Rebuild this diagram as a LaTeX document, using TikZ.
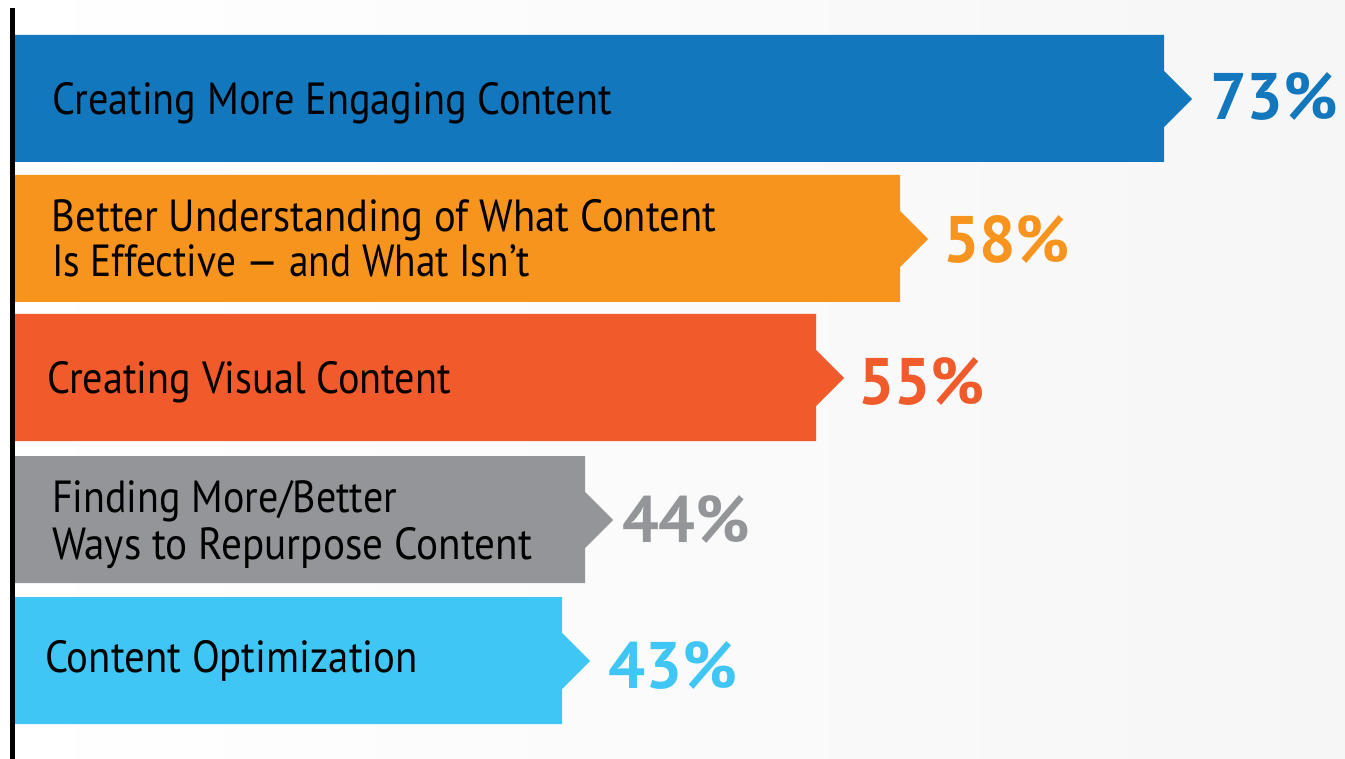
\documentclass[tikz,border=0pt]{standalone}
\usepackage{fontspec}
\setmainfont{PT Sans}
\usepackage{graphicx}
\definecolor{cblue}{HTML}{1377BD}
\definecolor{corange}{HTML}{F7941E}
\definecolor{cred}{HTML}{F15A2B}
\definecolor{cgray}{HTML}{939598}
\definecolor{clight}{HTML}{40C6F4}
\tikzset{
  lbl/.style={anchor=base west, inner sep=0pt, outer sep=0pt, text=black, font=\fontsize{45}{45}\selectfont},
  pct/.style={anchor=base west, inner sep=0pt, outer sep=0pt, font=\bfseries\fontsize{68}{68}\selectfont},
  axisline/.style={line width=4.5pt, black}
}
\newcommand\mybar[3]{% top, right, colour
  \fill[#3] (12,#1) -- (#2,#1) -- (#2,#1+36) -- (#2+28,#1+64) -- (#2,#1+92) -- (#2,#1+127) -- (12,#1+127) -- cycle;}
\newcommand\fitw[2]{\resizebox{#1pt}{\height}{#2}}
\newcommand\fitp[2]{\resizebox{#1pt}{47pt}{#2}}
\begin{document}
\begin{tikzpicture}[x=1pt,y=-1pt]
\useasboundingbox (0,0) rectangle (1345,759);
\shade[left color=white, right color=black!3.5] (0,0) rectangle (1345,759);
% bars
\mybar{35}{1164}{cblue}
\mybar{175}{900}{corange}
\mybar{314}{816}{cred}
\mybar{456}{585}{cgray}
\mybar{597}{562}{clight}
% axis
\coordinate (axtop) at (12.5,8);
\coordinate (axbot) at (12.5,759);
\draw[axisline] (axtop) -- (axbot);
% labels
\node[lbl] (l1) at (52,115) {\fitw{560}{Creating More Engaging Content}};
\node[lbl] (l2a) at (52,232) {\fitw{664}{Better Understanding of What Content}};
\node[lbl] (l2b) at (52,277) {\fitw{478}{Is Effective — and What Isn’t}};
\node[lbl] (l3) at (47,394) {\fitw{404}{Creating Visual Content}};
\node[lbl] (l4a) at (52,512) {\fitw{345}{Finding More/Better}};
\node[lbl] (l4b) at (52,559) {\fitw{480}{Ways to Repurpose Content}};
\node[lbl] (l5) at (45,672) {\fitw{373}{Content Optimization}};
% percentages
\node[pct, text=cblue] (p1) at (1210,120) {\fitp{128}{73\%}};
\node[pct, text=corange] (p2) at (943,263) {\fitp{127}{58\%}};
\node[pct, text=cred] (p3) at (858,405) {\fitp{127}{55\%}};
\node[pct, text=cgray] (p4) at (622,542) {\fitp{128}{44\%}};
\node[pct, text=clight] (p5) at (608,688) {\fitp{129}{43\%}};
\end{tikzpicture}
\end{document}
